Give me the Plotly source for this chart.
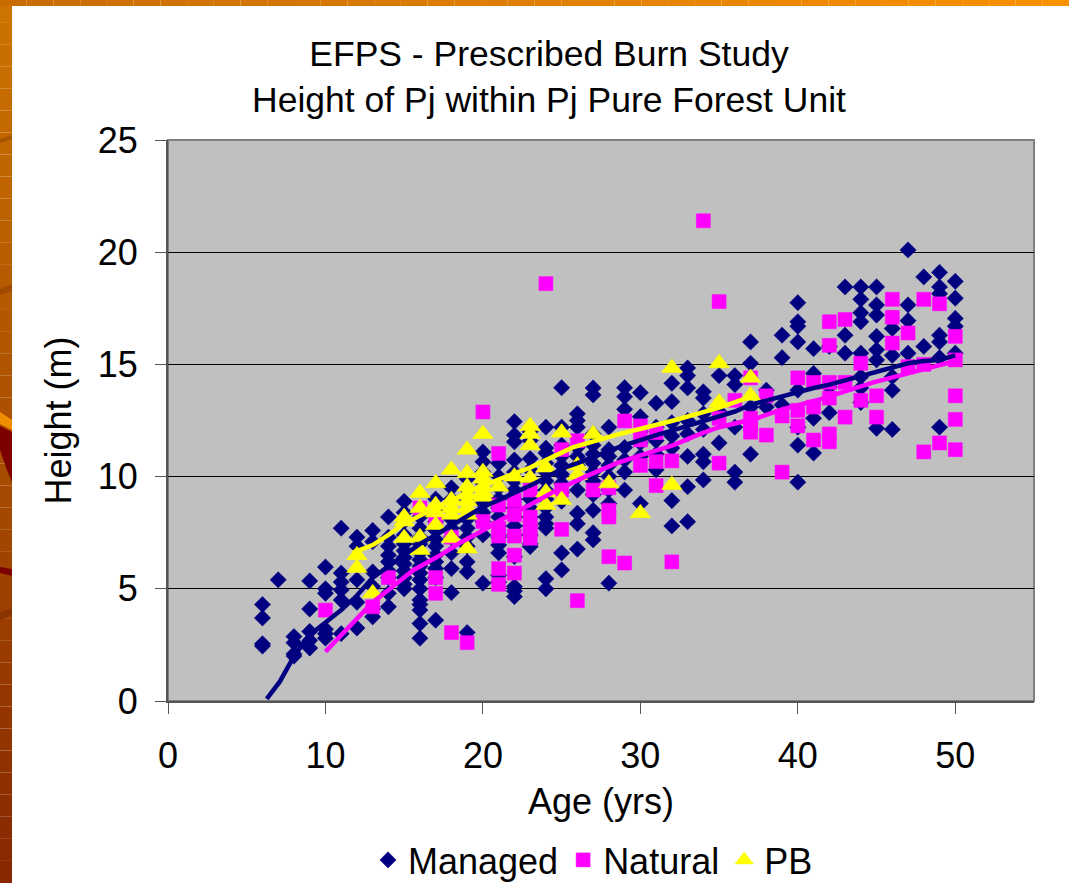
import plotly.graph_objects as go

managed_by_age = {
    6: [4.3, 3.7, 2.55, 2.45], 7: [5.4], 8: [2.87, 2.6, 2.1, 2.0],
    9: [5.35, 4.1, 3.1, 2.7, 2.36], 10: [5.97, 5.0, 4.8, 3.2, 3.0, 2.8],
    11: [7.7, 5.7, 5.3, 4.95, 4.5, 3.0], 12: [7.3, 6.9, 5.4, 4.4, 3.25],
    13: [7.6, 7.1, 5.75, 5.1, 4.1, 3.75], 14: [8.2, 7.3, 6.9, 6.5, 6.2, 5.8, 5.5, 4.8, 4.2],
    15: [8.9, 8.4, 8.0, 7.4, 7.0, 6.7, 6.4, 6.1, 5.8, 5.5, 5.2, 5.0],
    16: [8.2, 7.7, 7.3, 7.0, 6.6, 6.3, 6.0, 5.7, 5.4, 5.0, 4.5, 4.3, 4.05, 3.45, 2.8],
    17: [9.0, 8.5, 8.0, 7.6, 7.2, 6.9, 6.5, 6.2, 5.9, 5.5, 3.6],
    18: [9.5, 9.0, 8.5, 8.1, 7.7, 7.3, 6.6, 5.9, 4.83],
    19: [9.9, 9.4, 8.9, 8.5, 8.1, 7.7, 7.3, 6.9, 6.2, 5.76, 3.05],
    20: [11.1, 10.66, 10.2, 9.7, 9.2, 8.8, 8.4, 8.0, 7.4, 5.25],
    21: [10.6, 10.0, 9.5, 9.0, 8.6, 8.2, 7.8, 7.3, 6.95, 6.6, 5.6, 5.3],
    22: [12.45, 11.85, 11.55, 10.74, 10.2, 9.8, 9.4, 9.0, 8.6, 8.2, 7.8, 7.4, 6.43, 5.1, 4.9, 4.65],
    23: [12.0, 11.6, 10.8, 10.3, 9.8, 9.4, 9.0, 8.6, 8.2, 7.8, 7.4, 7.0, 6.88],
    24: [12.2, 11.27, 11.05, 10.6, 10.2, 9.8, 9.4, 9.0, 8.6, 8.2, 7.9, 7.7, 5.45, 5.0],
    25: [13.96, 12.2, 11.4, 10.9, 10.5, 10.1, 9.7, 9.3, 8.9, 6.6, 5.84],
    26: [12.8, 12.5, 12.2, 11.3, 10.9, 10.5, 10.0, 9.4, 8.37, 7.9, 6.77],
    27: [13.95, 13.64, 11.9, 11.4, 11.0, 10.6, 10.2, 9.8, 9.2, 8.5, 7.5, 7.18],
    28: [12.2, 11.2, 10.9, 10.5, 10.0, 9.4, 8.8, 5.25],
    29: [13.96, 13.56, 13.0, 11.3, 10.74, 10.2, 9.4],
    30: [13.74, 12.67, 12.0, 11.5, 10.9, 8.8], 31: [13.27, 12.2, 11.6, 11.0, 10.3],
    32: [14.16, 13.34, 12.4, 11.8, 11.27, 8.93, 7.8],
    33: [14.84, 14.5, 13.95, 12.5, 11.9, 10.9, 9.55, 7.99],
    34: [13.78, 13.5, 12.8, 12.1, 11.0, 10.66, 9.85],
    35: [14.5, 12.9, 11.5], 36: [14.5, 14.1, 12.2, 10.2, 9.75],
    37: [16.0, 15.05, 13.1, 11.0], 38: [13.85, 13.1], 39: [16.3, 15.3, 13.2],
    40: [17.75, 16.9, 16.7, 16.0, 13.85, 12.2, 11.4, 9.75],
    41: [15.7, 14.6, 12.6, 11.05], 42: [15.8, 12.85, 14.0], 43: [18.45, 16.3, 15.5],
    44: [18.45, 17.9, 17.3, 16.9, 15.5, 14.45, 13.95, 13.3],
    45: [18.45, 17.65, 17.2, 16.25, 15.65, 15.2, 12.15],
    46: [16.6, 15.4, 14.45, 13.85, 12.1], 47: [20.1, 17.65, 16.95, 15.5],
    48: [18.9, 15.8], 49: [19.1, 18.45, 18.15, 16.3, 16.0, 15.3, 12.2],
    50: [18.7, 17.95, 17.05, 16.7, 15.5],
}
natural_by_age = {
    10: [4.05], 13: [4.2], 14: [5.5], 16: [8.6], 17: [8.0, 5.5, 4.8], 18: [7.3, 3.05], 19: [2.6],
    20: [12.88, 8.0], 21: [11.03, 8.73, 7.7, 7.35, 5.9, 5.2], 22: [8.95, 8.3, 7.35, 6.5, 5.7],
    23: [9.4, 8.2, 7.85, 7.5, 7.25], 24: [18.6], 25: [11.2, 9.4, 7.65], 26: [11.6, 4.47],
    27: [9.4], 28: [9.5, 8.5, 8.2, 6.43], 29: [12.48, 6.15], 30: [12.26, 11.63, 10.5],
    31: [11.96, 10.67, 9.6], 32: [10.7, 6.2], 34: [21.4], 35: [17.8, 12.6, 10.6], 36: [13.4],
    37: [14.4, 12.6, 12.3, 11.98], 38: [13.6, 11.85], 39: [12.7, 10.2], 40: [14.4, 12.95, 12.26],
    41: [14.2, 13.1, 11.63], 42: [16.9, 15.85, 14.2, 13.5, 11.9, 11.55], 43: [17.0, 14.2, 12.65],
    44: [15.05, 13.4], 45: [13.6, 12.65], 46: [17.9, 17.1, 15.95], 47: [16.4, 14.9],
    48: [17.9, 15.0, 11.1], 49: [17.7, 11.5], 50: [16.25, 15.2, 13.6, 12.55, 11.2],
}
pb_by_age = {
    12: [6.5, 5.93], 13: [4.8], 15: [8.2, 8.0, 7.26], 16: [9.27, 8.6, 7.3, 6.73],
    17: [9.7, 8.73, 8.4, 7.84], 18: [10.3, 8.96, 8.6, 8.3, 7.26],
    19: [11.2, 10.15, 9.55, 9.2, 8.9, 8.6, 8.3, 6.8], 20: [11.9, 10.2, 9.9, 9.55, 9.3, 9.1], 21: [9.55],
    22: [10.0], 23: [12.25, 11.9, 11.4, 9.94], 24: [10.4, 9.3, 8.73], 25: [11.96, 8.96],
    26: [10.5, 10.07], 27: [11.9], 28: [9.7], 30: [8.37], 32: [14.84, 9.63],
    35: [15.05, 13.3], 37: [14.4, 13.6],
}
managed_trend_age = [6.27, 7.1, 8, 9, 10, 11, 12, 13, 14, 15, 16, 17, 18, 19, 20, 21, 22, 23, 24, 25,
                     26, 27, 28, 29, 30, 31, 32, 33, 34, 35, 36, 37, 38, 39, 40, 41, 42, 43, 44, 45, 46, 47, 48, 49, 50]
managed_trend = [0.1, 0.86, 2.0, 2.95, 3.5, 4.05, 4.7, 5.5, 6.0, 6.5, 7.0, 7.4, 7.8, 8.2, 8.65, 8.95, 9.25, 9.6, 9.95, 10.35,
                 10.6, 10.9, 11.15, 11.4, 11.65, 11.85, 12.05, 12.25, 12.45, 12.7, 12.9, 13.2, 13.4, 13.6, 13.8, 13.95, 14.1, 14.3, 14.5, 14.7, 14.9, 15.05, 15.15, 15.2, 15.4]
natural_trend_age = [10, 11, 12, 13, 14, 15, 15.6, 17.3, 18.55, 20, 21.1, 23, 24.7, 26.5, 28.5, 30, 32.1, 33.8, 35, 37.4, 39, 41.2, 43, 44.8, 47, 49, 50]
natural_trend = [2.2, 2.95, 3.7, 4.4, 4.95, 5.5, 5.84, 6.5, 7.05, 7.6, 8.06, 8.75, 9.4, 10.0, 10.6, 10.95, 11.4, 11.9, 12.2, 12.6, 13.0, 13.4, 13.8, 14.2, 14.6, 14.95, 15.15]
pb_trend_age = [11.7, 12.5, 13, 14, 15, 16.4, 18, 19.5, 21.1, 23, 25.7, 28.7, 32.1, 34.9, 37]
pb_trend = [6.6, 6.8, 6.95, 7.4, 7.9, 8.4, 8.95, 9.45, 9.9, 10.4, 11.3, 11.9, 12.5, 13.05, 13.55]

TITLE = "EFPS - Prescribed Burn Study<br>Height of Pj within Pj Pure Forest Unit"
FONT = "Liberation Sans"
W, H = 1069, 883
L, R, T, B = 168, 1034, 140, 701


def flat(d):
    xs, ys = [], []
    for a, vals in d.items():
        for v in vals:
            xs.append(a)
            ys.append(v)
    return xs, ys


fig = go.Figure()
for name, d, sym, size, col in [
    ("Managed", managed_by_age, "diamond", 12.5, "#000080"),
    ("Natural", natural_by_age, "square", 14, "#FF00FF"),
    ("PB", pb_by_age, "triangle-up", 18, "#FFFF00"),
]:
    xs, ys = flat(d)
    fig.add_trace(go.Scatter(x=xs, y=ys, mode="markers", name=name, cliponaxis=False,
                             marker=dict(symbol=sym, size=size, color=col, line=dict(width=0.5, color=col))))
for tx, ty, col in [
    (managed_trend_age, managed_trend, "#000080"),
    (natural_trend_age, natural_trend, "#FF00FF"),
    (pb_trend_age, pb_trend, "#FFFF00"),
]:
    fig.add_trace(go.Scatter(x=tx, y=ty, mode="lines", showlegend=False, hoverinfo="skip",
                             line=dict(color=col, width=4.5)))


def px(x):
    return (x - L) / (R - L)


def py(y):
    return (B - y) / (B - T)


def lerp(c1, c2, t):
    return "rgb(%d,%d,%d)" % tuple(round(a + (b - a) * t) for a, b in zip(c1, c2))


shapes = []
n = 40
for i in range(n):
    y0, y1 = H * i / n, H * (i + 1) / n
    shapes.append(dict(type="rect", xref="paper", yref="paper", layer="below", line_width=0,
                       x0=px(0), x1=px(12), y0=py(y0), y1=py(y1),
                       fillcolor=lerp((205, 115, 0), (135, 40, 0), i / (n - 1))))
for i in range(n):
    x0, x1 = W * i / n, W * (i + 1) / n
    shapes.append(dict(type="rect", xref="paper", yref="paper", layer="below", line_width=0,
                       x0=px(x0), x1=px(x1), y0=py(0), y1=py(6),
                       fillcolor=lerp((200, 108, 0), (248, 145, 0), i / (n - 1))))
# dark streaks of the slide's background
for pts, col in [
    ([(0, 139), (12, 135), (12, 139), (0, 143)], "#a85500"),
    ([(0, 289), (12, 284), (12, 291), (0, 295)], "#a04a00"),
    ([(0, 426), (12, 432), (12, 482), (7, 470), (0, 450)], "#7c0000"),
    ([(0, 412), (12, 420), (12, 430), (0, 424)], "#f09000"),
    ([(0, 567), (12, 569), (12, 576), (0, 573)], "#7c0000"),
    ([(0, 613), (12, 608), (12, 615), (0, 620)], "#8a3200"),
]:
    path = "M " + " L ".join("%.5f,%.5f" % (px(a), py(b)) for a, b in pts) + " Z"
    shapes.append(dict(type="path", path=path, xref="paper", yref="paper", layer="below",
                       line_width=0, fillcolor=col))
# gray top and right border of plot area
shapes.append(dict(type="rect", xref="paper", yref="paper", layer="below", x0=0, x1=1, y0=0, y1=1,
                   line=dict(color="#808080", width=2), fillcolor="#C0C0C0"))

axis = dict(showline=True, linecolor="#555555", linewidth=2, ticks="outside", ticklen=11, automargin=False,
            tickcolor="#555555", tickwidth=1, zeroline=False, tickfont=dict(size=36, color="black"),
            title_font=dict(size=36, color="black"))
fig.update_layout(
    width=W, height=H, autosize=False,
    paper_bgcolor="white", plot_bgcolor="rgba(0,0,0,0)",
    margin=dict(l=L, r=W - R, t=T, b=H - B, pad=0),
    font=dict(family=FONT, color="black"),
    title=dict(text=TITLE, x=549 / W, xanchor="center", y=1 - 66 / H, yanchor="top",
               font=dict(size=35.5, color="black")),
    xaxis=dict(axis, range=[0, 55], tickvals=[0, 10, 20, 30, 40, 50], showgrid=False,
               ticklabelstandoff=11, title=dict(text="Age (yrs)", standoff=14)),
    yaxis=dict(axis, range=[0, 25], tickvals=[0, 5, 10, 15, 20, 25], showgrid=True,
               ticklabelstandoff=10, gridcolor="black", gridwidth=1,
               title=dict(text="Height (m)", standoff=15)),
    legend=dict(orientation="h", x=(593 - L) / (R - L), xanchor="center", yref="container",
                y=1 - 830 / H, yanchor="top",
                font=dict(size=36, color="black"), bgcolor="rgba(0,0,0,0)", itemwidth=30,
                traceorder="normal"),
    shapes=shapes, showlegend=True,
)
fig.write_html("out.html", post_script="document.body.style.margin='0';",
               config={"displayModeBar": False})
